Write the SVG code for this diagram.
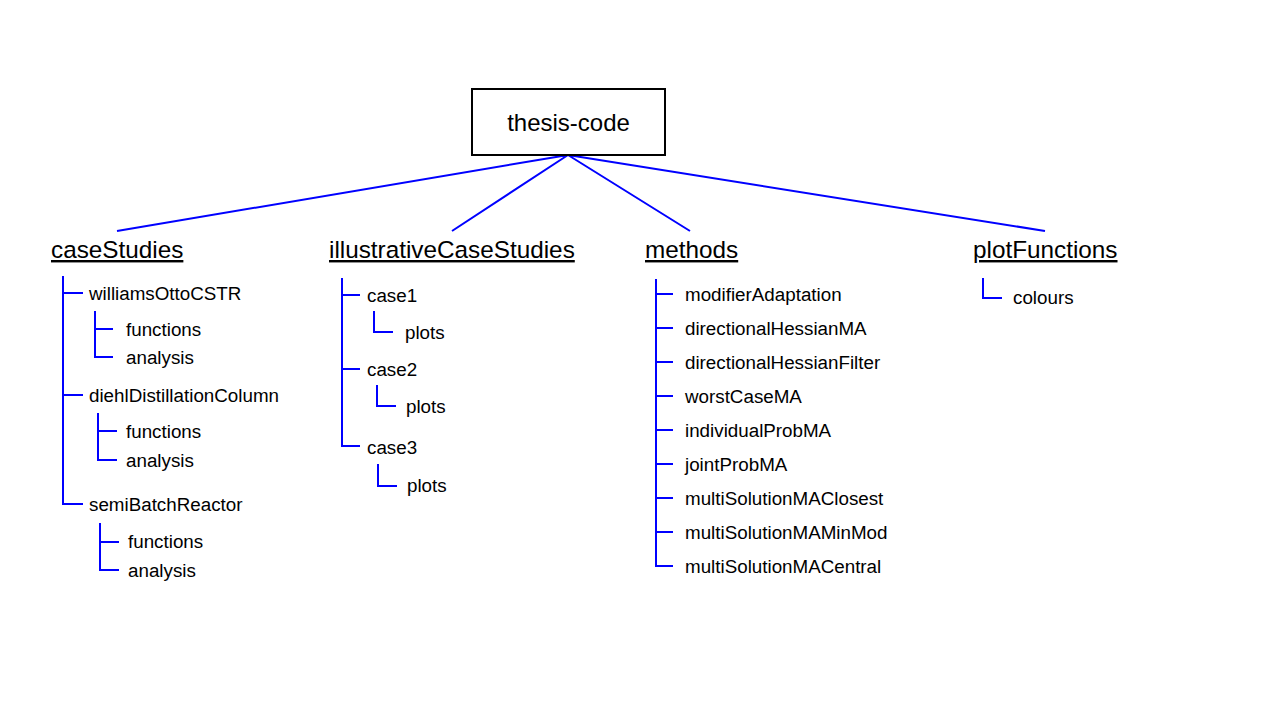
<svg xmlns="http://www.w3.org/2000/svg" width="1280" height="720" viewBox="0 0 1280 720">
<style>
.h{font-family:"Liberation Sans",Arial,sans-serif;font-size:24.3px;fill:#000;text-decoration:underline}
.t{font-family:"Liberation Sans",Arial,sans-serif;font-size:18.8px;fill:#000}
.r{font-family:"Liberation Sans",Arial,sans-serif;font-size:24px;fill:#000}
.c{stroke:#0000ff;stroke-width:2;fill:none}
</style>
<rect width="1280" height="720" fill="#fff"/>
<g id="connectors">
<path class="c" d="M568,155 L117,231 M568,155 L452,231 M568,155 L690,231 M568,155 L1045,231"/>
<path class="c" d="M63,276 V504 H83 M63,293 H83 M63,395 H83"/>
<path class="c" d="M95,311 V357 H113 M95,329 H113"/>
<path class="c" d="M98,413 V460 H117 M98,431 H117"/>
<path class="c" d="M100,523 V570 H119 M100,542 H119"/>
<path class="c" d="M342,278 V446 H360 M342,295 H360 M342,369 H360"/>
<path class="c" d="M374,311 V332 H393"/>
<path class="c" d="M377,385 V406 H396"/>
<path class="c" d="M378,464 V486 H397"/>
<path class="c" d="M656,279 V566 H673 M656,294 H673 M656,328 H673 M656,362 H673 M656,396 H673 M656,430 H673 M656,464 H673 M656,498 H673 M656,532 H673"/>
<path class="c" d="M983,278 V298 H1002"/>
</g>
<g id="root">
<rect x="472" y="89" width="193" height="66" fill="#fff" stroke="#000" stroke-width="2"/>
<text class="r" x="568.5" y="131" text-anchor="middle">thesis-code</text>
</g>
<g id="caseStudies">
<text class="h" x="51" y="258">caseStudies</text>
<text class="t" x="89" y="300">williamsOttoCSTR</text>
<text class="t" x="126" y="336">functions</text>
<text class="t" x="126" y="364">analysis</text>
<text class="t" x="89" y="402">diehlDistillationColumn</text>
<text class="t" x="126" y="438">functions</text>
<text class="t" x="126" y="467">analysis</text>
<text class="t" x="89" y="511">semiBatchReactor</text>
<text class="t" x="128" y="548">functions</text>
<text class="t" x="128" y="577">analysis</text>
</g>
<g id="illustrativeCaseStudies">
<text class="h" x="329" y="258">illustrativeCaseStudies</text>
<text class="t" x="367" y="302">case1</text>
<text class="t" x="405" y="339">plots</text>
<text class="t" x="367" y="376">case2</text>
<text class="t" x="406" y="413">plots</text>
<text class="t" x="367" y="454">case3</text>
<text class="t" x="407" y="492">plots</text>
</g>
<g id="methods">
<text class="h" x="645" y="258">methods</text>
<text class="t" x="685" y="301">modifierAdaptation</text>
<text class="t" x="685" y="335">directionalHessianMA</text>
<text class="t" x="685" y="369">directionalHessianFilter</text>
<text class="t" x="685" y="403">worstCaseMA</text>
<text class="t" x="685" y="437">individualProbMA</text>
<text class="t" x="685" y="471">jointProbMA</text>
<text class="t" x="685" y="505">multiSolutionMAClosest</text>
<text class="t" x="685" y="539">multiSolutionMAMinMod</text>
<text class="t" x="685" y="573">multiSolutionMACentral</text>
</g>
<g id="plotFunctions">
<text class="h" x="973" y="258">plotFunctions</text>
<text class="t" x="1013" y="304">colours</text>
</g>
</svg>
